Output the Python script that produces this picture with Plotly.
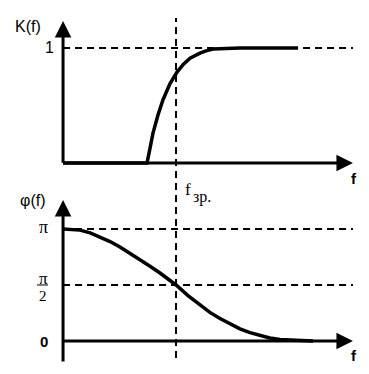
import plotly.graph_objects as go

# ---- data (frequency in units of f_cutoff) ----
f_gain = [0.0, 0.743, 0.770, 0.796, 0.841, 0.885, 0.947, 1.009, 1.062, 1.124, 1.212, 1.265, 1.327, 1.450, 1.566, 2.080]
K_gain = [0.0, 0.0, 0.13, 0.26, 0.42, 0.55, 0.69, 0.79, 0.855, 0.91, 0.955, 0.975, 0.99, 0.998, 1.0, 1.0]

f_phase = [0.0, 0.075, 0.150, 0.240, 0.327, 0.416, 0.504, 0.593, 0.681, 0.770, 0.858, 0.930, 1.0,
           1.106, 1.212, 1.300, 1.389, 1.478, 1.566, 1.655, 1.743, 1.830, 1.920, 2.060, 2.212]
phi_phase = [1.0, 0.998, 0.990, 0.965, 0.930, 0.888, 0.840, 0.785, 0.725, 0.667, 0.607, 0.555, 0.5,
             0.405, 0.318, 0.255, 0.200, 0.150, 0.108, 0.074, 0.047, 0.027, 0.013, 0.003, 0.0]  # units of pi

f_cut = 1.0
f_axis_end = 2.566
K_ref = 1.0
phi_refs = [1.0, 0.5]
K_axis_top = 1.235
phi_axis_top = 1.259
phi_axis_bottom = -0.196

W, H = 369, 374
X_RANGE = [-0.558, 2.708]
Y1_RANGE = [-0.148, 1.417]
Y2_RANGE = [-0.295, 1.4375]
SPLIT = 1 - 180 / H

fig = go.Figure()
fig.add_trace(go.Scatter(x=f_gain, y=K_gain, mode="lines", xaxis="x", yaxis="y",
                         line=dict(color="black", width=3.5), hoverinfo="skip"))
fig.add_trace(go.Scatter(x=f_phase, y=phi_phase, mode="lines", xaxis="x2", yaxis="y2",
                         line=dict(color="black", width=3.5), hoverinfo="skip"))

dash = dict(color="black", width=2, dash="7px,5px")
shapes = [
    dict(type="line", xref="x", yref="y", x0=0, x1=f_axis_end, y0=K_ref, y1=K_ref, line=dash),
    dict(type="line", xref="x", yref="paper", x0=f_cut, x1=f_cut, y0=1 - 358 / H, y1=1 - 18 / H, line=dash),
]
for p in phi_refs:
    shapes.append(dict(type="line", xref="x2", yref="y2", x0=0, x1=f_axis_end, y0=p, y1=p, line=dash))

# fraction bar for pi/2
shapes.append(dict(type="line", xref="paper", yref="y2", x0=37 / W, x1=48 / W, y0=0.5, y1=0.5,
                   line=dict(color="black", width=1)))

ann = []
def arrow(xr, yr, x, y, ax, ay):
    ann.append(dict(xref=xr, yref=yr, axref=xr, ayref=yr, x=x, y=y, ax=ax, ay=ay, text="",
                    showarrow=True, arrowhead=2, arrowsize=1.1, arrowwidth=3, arrowcolor="black"))

# axes
arrow("x", "y", f_axis_end, 0, -0.01, 0)
arrow("x", "y", 0, K_axis_top, 0, -0.01)
arrow("x2", "y2", f_axis_end, 0, -0.01, 0)
arrow("x2", "y2", 0, phi_axis_top, 0, phi_axis_bottom)

sans = "Liberation Sans, Arial, sans-serif"
serif = "Liberation Serif, Times New Roman, serif"
def txt(text, x, y, yref="paper", size=15, family=sans, xanchor="center"):
    ann.append(dict(xref="paper", yref=yref, x=x / W, y=(1 - y / H) if yref == "paper" else y,
                    text=text, showarrow=False, font=dict(family=family, size=size, color="black"),
                    xanchor=xanchor, yanchor="middle"))

txt("K(f)", 28, 26, size=16)
txt("1", 49, 47, size=16)
txt("<b>f</b>", 354, 178, size=15)
txt("φ(f)", 32, 200, size=16)
txt("π", 43, 227, size=18, family=serif)
txt("π", 43, 278, size=17, family=serif)
txt("2", 43, 296, size=15, family=serif)
txt("<b>0</b>", 44, 341, size=15)
txt("<b>f</b>", 354, 355, size=15)
txt("f", 188, 189, size=17, family=serif)
txt("зр.", 191, 197, size=16, family=serif, xanchor="left")

fig.update_layout(
    width=W, height=H, margin=dict(l=0, r=0, t=0, b=0),
    paper_bgcolor="white", plot_bgcolor="white", showlegend=False,
    xaxis=dict(range=X_RANGE, domain=[0, 1], visible=False, anchor="y"),
    yaxis=dict(range=Y1_RANGE, domain=[SPLIT, 1], visible=False, anchor="x"),
    xaxis2=dict(range=X_RANGE, domain=[0, 1], visible=False, anchor="y2"),
    yaxis2=dict(range=Y2_RANGE, domain=[0, SPLIT], visible=False, anchor="x2"),
    shapes=shapes, annotations=ann,
)
fig.write_html("out.html")
